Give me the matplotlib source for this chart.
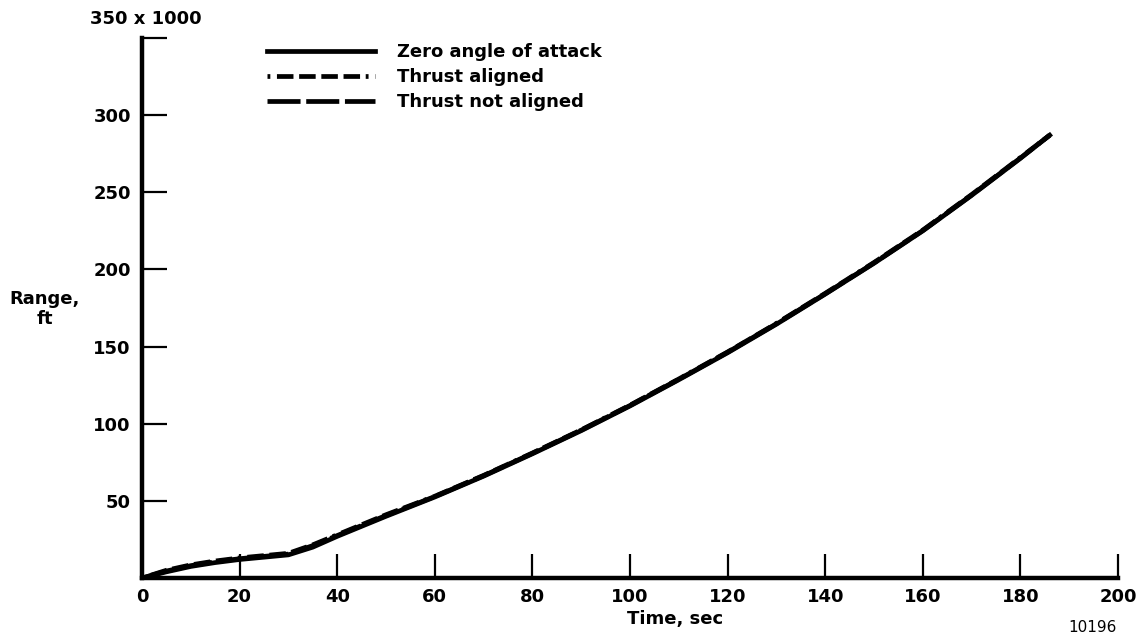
import matplotlib
matplotlib.use("Agg")
import matplotlib.pyplot as plt

plt.rcParams['font.family'] = ['DejaVu Sans']
plt.rcParams['font.weight'] = 'bold'

# data (range in thousands of ft)
time_s = [0, 5, 10, 15, 20, 25, 30, 35, 40, 50, 60, 70, 80, 90, 100,
          110, 120, 130, 140, 150, 160, 170, 180, 186]
range_zero = [0, 4, 7.5, 10, 12, 13.5, 15, 20, 27, 40, 52.5, 66, 80.5, 95.5, 111.5,
              128.5, 146, 164.5, 184, 204, 225, 248, 272, 287]
range_aligned = [0, 5, 8.5, 11, 13, 14.5, 16, 21.5, 28, 41, 53, 66.5, 81, 96, 112,
                 129, 146.5, 165, 184.5, 204.5, 225.5, 248.5, 272.5, 287]
range_not_aligned = [0, 4.5, 8, 10.5, 12.5, 14, 15.5, 21, 27.5, 40.5, 52.8, 66.3, 80.8, 95.8, 111.8,
                     128.8, 146.3, 164.8, 184.2, 204.2, 225.2, 248.2, 272.2, 287]
series_labels = ['Zero angle of attack', 'Thrust aligned', 'Thrust not aligned']

x_ticks = [0, 20, 40, 60, 80, 100, 120, 140, 160, 180, 200]
y_ticks = [50, 100, 150, 200, 250, 300, 350]
y_tick_labels = ['50', '100', '150', '200', '250', '300', '']

fig = plt.figure(figsize=(11.44, 6.4), dpi=100)
ax = fig.add_axes([142 / 1144, 62 / 640, 976 / 1144, 540 / 640])

lw = 3.4
ax.plot(time_s, range_aligned, color='black', lw=lw,
        linestyle=(0, (0.6, 1.4, 3.5, 1.2, 3.5, 1.2, 3.5, 1.2, 3.5, 1.2)),
        label=series_labels[1])
ax.plot(time_s, range_not_aligned, color='black', lw=lw,
        linestyle=(0, (7, 1.2)), label=series_labels[2])
ax.plot(time_s, range_zero, color='black', lw=lw, label=series_labels[0])

ax.set_xlim(0, 200)
ax.set_ylim(0, 350)
ax.spines['top'].set_visible(False)
ax.spines['right'].set_visible(False)
ax.spines['left'].set_linewidth(3.2)
ax.spines['bottom'].set_linewidth(3.2)

ax.set_xticks(x_ticks)
ax.set_xticklabels([str(v) for v in x_ticks])
ax.set_yticks(y_ticks)
ax.set_yticklabels(y_tick_labels)
ax.tick_params(axis='x', direction='in', length=17, width=1.6, pad=7, labelsize=13)
ax.tick_params(axis='y', direction='in', length=18, width=1.6, pad=8, labelsize=13)

fig.text(675 / 1144, 1 - 619 / 640, 'Time, sec', ha='center', va='center', fontsize=13)
fig.text(45 / 1144, 1 - 309 / 640, 'Range,\nft', ha='center', va='center',
         fontsize=13, linespacing=1.15)
fig.text(146 / 1144, 1 - 19 / 640, '350 x 1000', ha='center', va='center', fontsize=13)
fig.text(1092 / 1144, 1 - 627 / 640, '10196', ha='center', va='center',
         fontsize=11, fontweight='normal')

handles, labels = ax.get_legend_handles_labels()
order = [2, 0, 1]
leg = ax.legend([handles[i] for i in order], [labels[i] for i in order],
                loc='upper left', bbox_to_anchor=(267 / 1144, 1 - 43 / 640),
                bbox_transform=fig.transFigure, frameon=False,
                handlelength=6.0, handletextpad=1.2, labelspacing=0.4,
                borderpad=0, borderaxespad=0,
                prop={'size': 13, 'weight': 'bold'})

fig.savefig('out.png', dpi=100)
